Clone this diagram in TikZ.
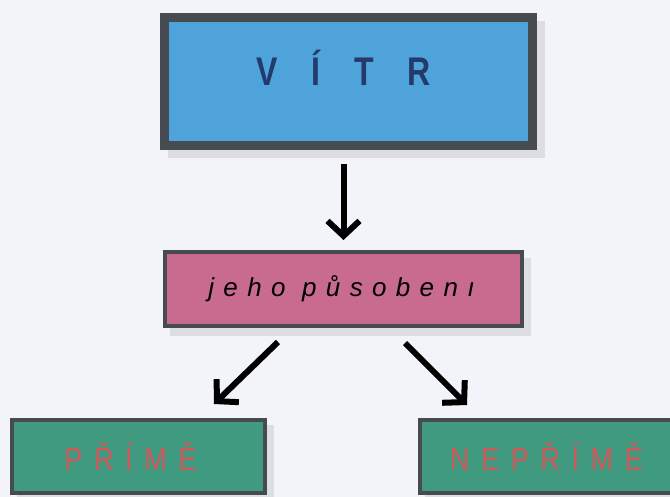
\documentclass[tikz,border=0pt]{standalone}
\usepackage{fontspec}
\setmainfont{Liberation Sans}
\newfontfamily\titlefont[FakeStretch=0.8,LetterSpace=84]{Liberation Sans}
\newfontfamily\actfont[LetterSpace=36]{Liberation Sans}
\newfontfamily\kindfont[FakeStretch=0.85,LetterSpace=36]{Liberation Sans}
\usetikzlibrary{arrows.meta}

\definecolor{paper}{HTML}{F3F4F9}
\definecolor{frame}{HTML}{464B52}
\definecolor{shade}{HTML}{DCDEE3}
\definecolor{windblue}{HTML}{4DA3DA}
\definecolor{navy}{HTML}{233A6B}
\definecolor{rose}{HTML}{C96A8F}
\definecolor{teal}{HTML}{3F9A80}
\definecolor{brick}{HTML}{D0575A}

\tikzset{
  box/.style={draw=frame, rectangle, inner sep=0pt},
  shadowbox/.style={fill=shade},
  arr/.style={-{Straight Barb[length=15pt,width=32pt]}, line width=6pt, draw=black},
}

\begin{document}
\begin{tikzpicture}[x=1pt,y=-1pt]
  \useasboundingbox (0,0) rectangle (670,497);
  \clip (0,0) rectangle (670,497);
  \fill[paper] (0,0) rectangle (670,497);

  % soft shadows under the boxes
  \fill[shadowbox] (168,21) rectangle (545,158);
  \fill[shadowbox] (170,258) rectangle (531,336);
  \fill[shadowbox] (17,425) rectangle (274,502);
  \fill[shadowbox] (425,425) rectangle (682,502);

  % the wind
  \node[box, fill=windblue, line width=9pt, minimum width=368pt, minimum height=128pt,
        text height=29pt, text depth=20pt, text=navy,
        font=\titlefont\bfseries\fontsize{40}{40}\selectfont]
    (vitr) at (348.5,81.5) {VÍTR\kern10pt};

  % its action
  \node[box, fill=rose, line width=4pt, minimum width=357pt, minimum height=74pt,
        text=black, font=\actfont\itshape\fontsize{26}{26}\selectfont]
    (act) at (343.5,289) {jeho působenı\kern4pt};

  % direct and indirect action
  \node[box, fill=teal, line width=4pt, minimum width=253pt, minimum height=73pt,
        text=brick, font=\kindfont\fontsize{32}{32}\selectfont]
    (direct) at (138.5,456.5) {PŘÍMĚ\kern16pt};
  \node[box, fill=teal, line width=4pt, minimum width=253pt, minimum height=73pt,
        text=brick, font=\kindfont\fontsize{32}{32}\selectfont]
    (indirect) at (546.5,456.5) {NEPŘÍMĚ};

  % connectors
  \coordinate (dl) at (278,342);
  \coordinate (tl) at (214,404);
  \coordinate (dr) at (405,343);
  \coordinate (tr) at (467,405);
  \draw[arr, shorten <=14pt, shorten >=10pt] (act.north |- vitr.south) -- (act.north);
  \draw[arr] (dl) -- (tl);
  \draw[arr] (dr) -- (tr);
\end{tikzpicture}
\end{document}
